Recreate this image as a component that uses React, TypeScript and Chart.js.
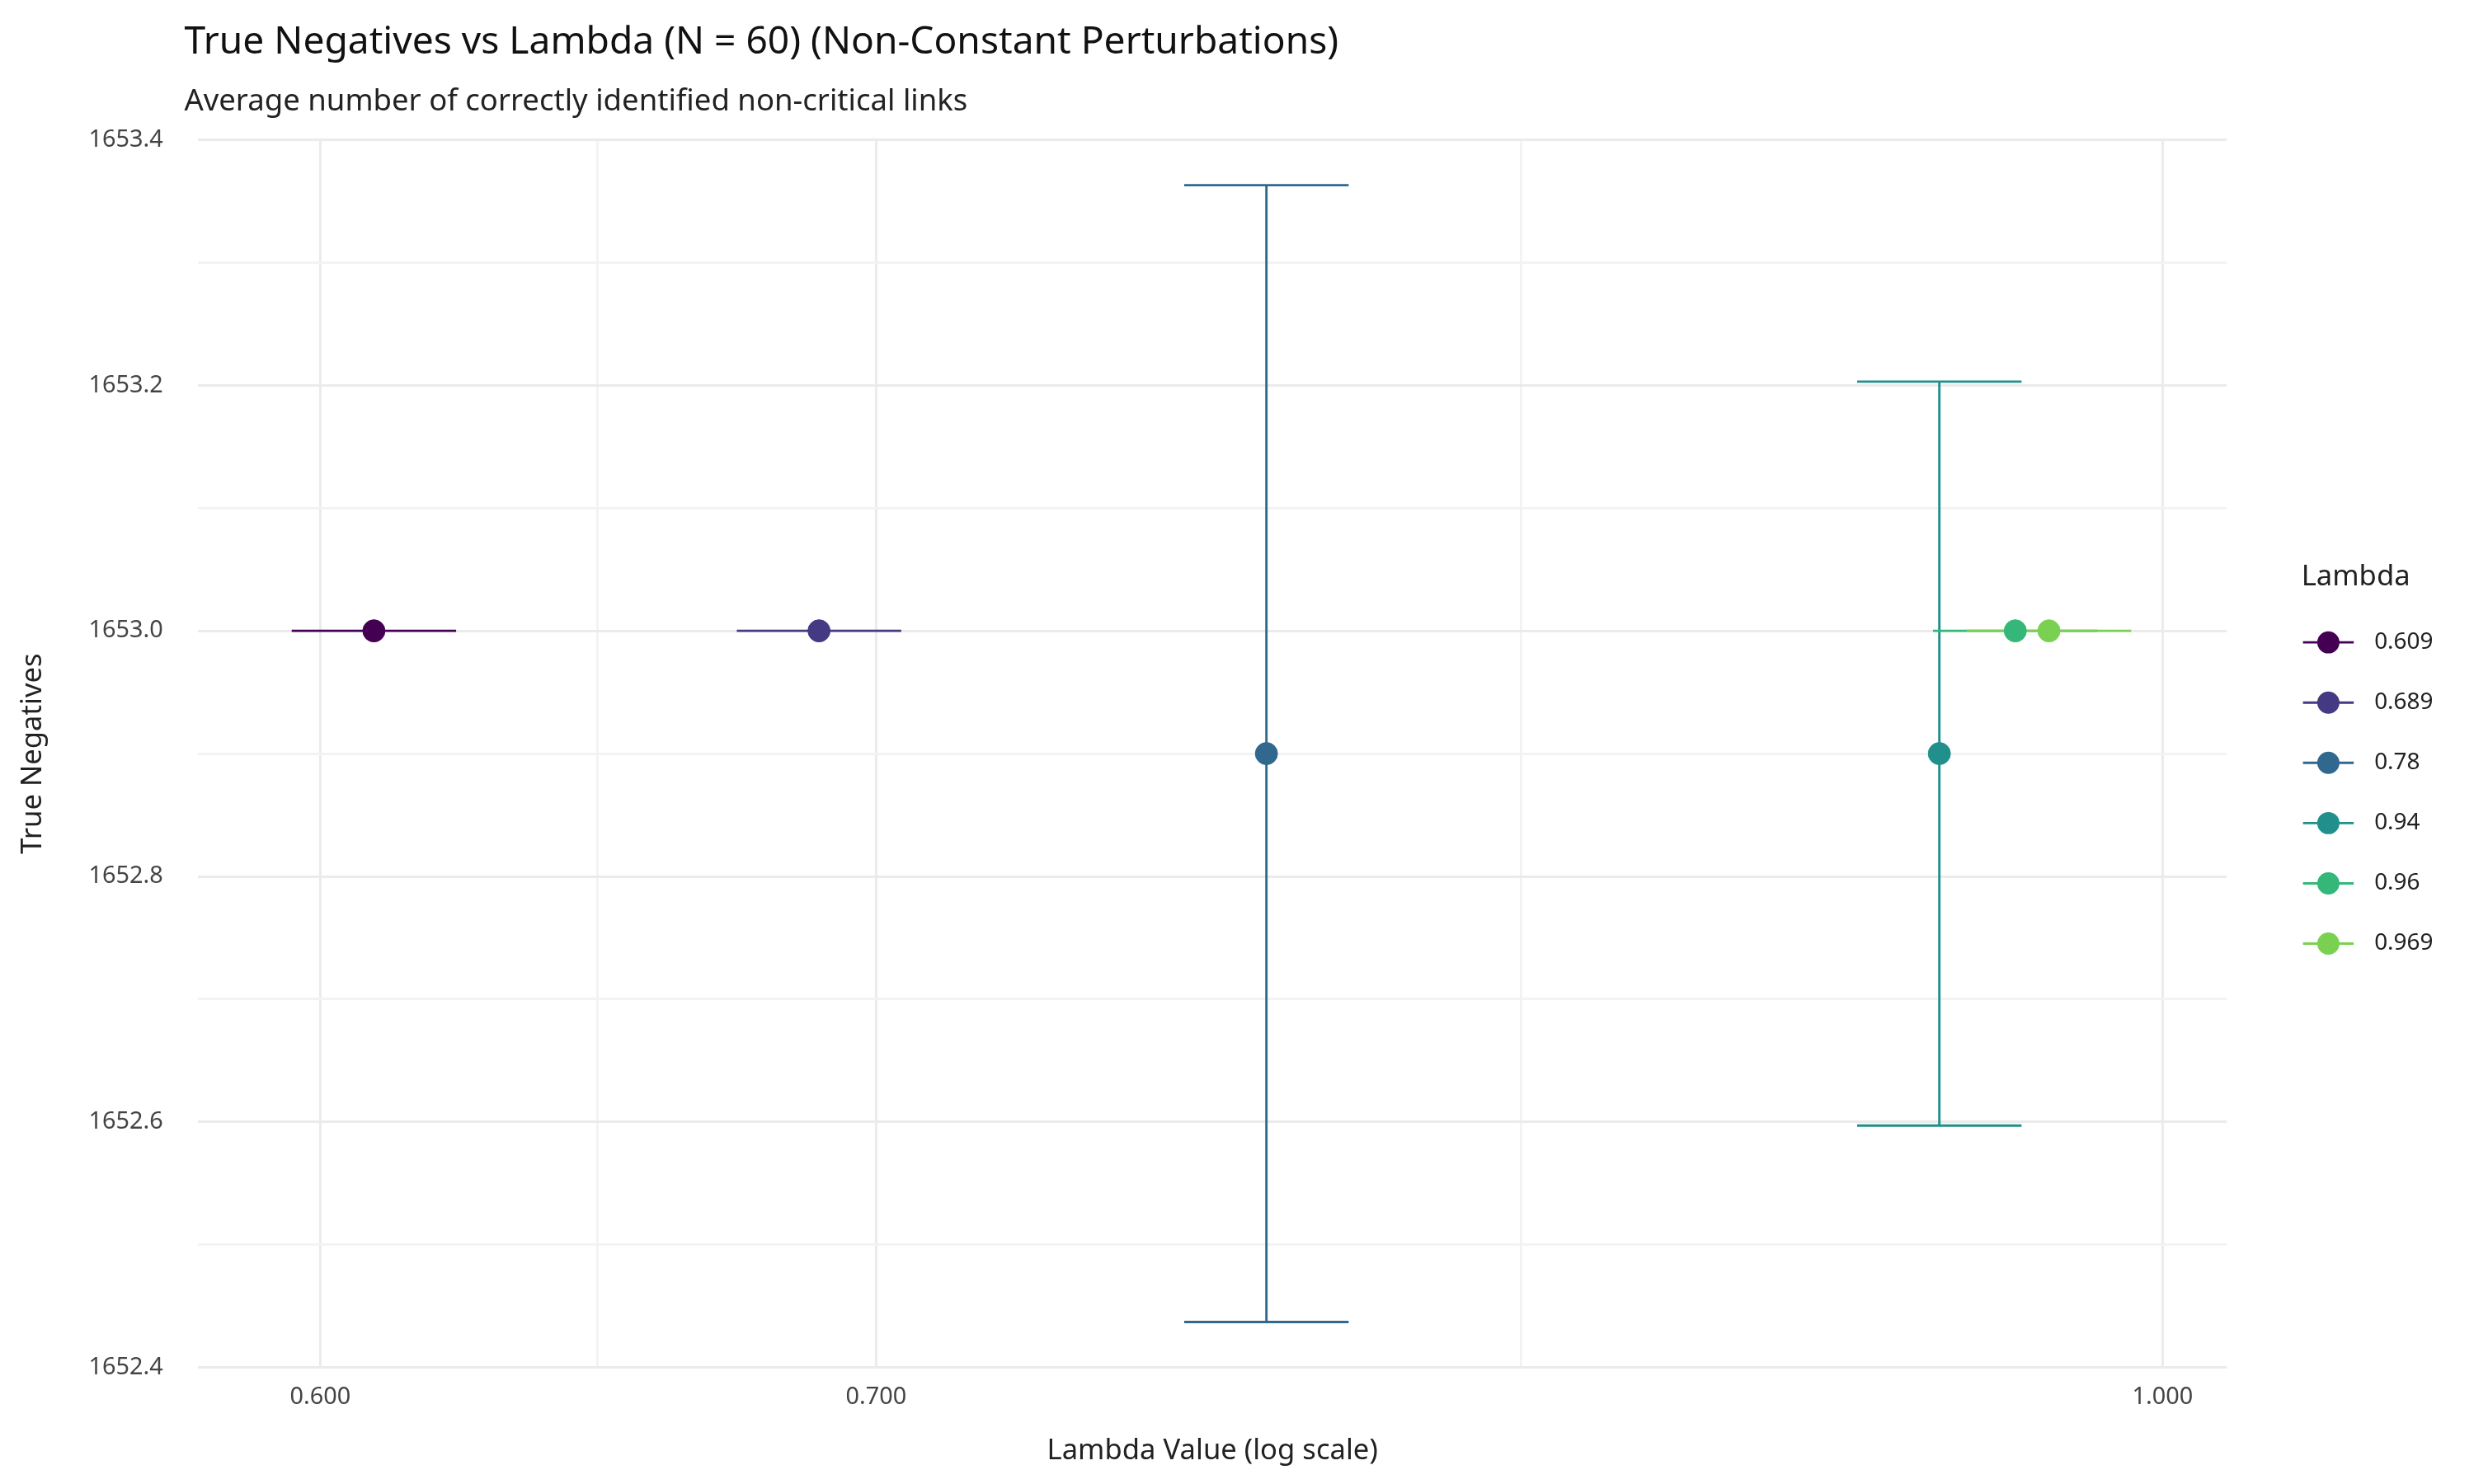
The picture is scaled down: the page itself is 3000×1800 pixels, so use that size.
import React, { useEffect, useRef } from 'react';
import { Chart, registerables } from 'chart.js';

Chart.register(...registerables);

const S = 3000 / 1560;
const px = (v: number) => v * S;

const lambdas = [0.609, 0.689, 0.78, 0.94, 0.96, 0.969];
const means = [1653.0, 1653.0, 1652.9, 1652.9, 1653.0, 1653.0];
const lows = [1653.0, 1653.0, 1652.437, 1652.597, 1653.0, 1653.0];
const highs = [1653.0, 1653.0, 1653.363, 1653.203, 1653.0, 1653.0];
const labels = ['0.609', '0.689', '0.78', '0.94', '0.96', '0.969'];
const colors = ['#440154', '#443A83', '#31688E', '#21908C', '#35B779', '#7AD151'];
const xTicks = [0.6, 0.648, 0.7, 0.837, 1.0];
const xMajor = [0.6, 0.7, 1.0];

const errorBars = {
  id: 'errorBars',
  beforeDatasetsDraw(chart: any) {
    const { ctx, scales } = chart;
    const x = scales.x, y = scales.y;
    const w = Math.pow(10, 0.0099);
    ctx.save();
    ctx.lineWidth = px(1.5);
    lambdas.forEach((l, i) => {
      ctx.strokeStyle = colors[i];
      const cx = x.getPixelForValue(l);
      const x0 = x.getPixelForValue(l / w), x1 = x.getPixelForValue(l * w);
      const yl = y.getPixelForValue(lows[i]), yh = y.getPixelForValue(highs[i]);
      ctx.beginPath();
      ctx.moveTo(cx, yl); ctx.lineTo(cx, yh);
      ctx.moveTo(x0, yl); ctx.lineTo(x1, yl);
      ctx.moveTo(x0, yh); ctx.lineTo(x1, yh);
      ctx.stroke();
    });
    ctx.restore();
  },
};

const decorations = {
  id: 'decorations',
  afterDraw(chart: any) {
    const { ctx } = chart;
    ctx.save();
    ctx.textBaseline = 'middle';
    ctx.fillStyle = '#111';
    ctx.font = `${px(24)}px "Noto Sans"`;
    ctx.fillText('True Negatives vs Lambda (N = 60) (Non-Constant Perturbations)', px(112), px(23));
    ctx.fillStyle = '#222';
    ctx.font = `${px(19)}px "Noto Sans"`;
    ctx.fillText('Average number of correctly identified non-critical links', px(112), px(60));
    ctx.font = `${px(18)}px "Noto Sans"`;
    ctx.fillText('Lambda', px(1447), px(360));
    ctx.font = `${px(14.5)}px "Noto Sans"`;
    labels.forEach((t, i) => {
      const yy = px(401 + i * 38);
      ctx.strokeStyle = colors[i];
      ctx.lineWidth = px(1.5);
      ctx.beginPath();
      ctx.moveTo(px(1448), yy); ctx.lineTo(px(1480), yy); ctx.stroke();
      ctx.fillStyle = colors[i];
      ctx.beginPath();
      ctx.arc(px(1464), yy, px(7), 0, Math.PI * 2); ctx.fill();
      ctx.fillStyle = '#222';
      ctx.fillText(t, px(1493), yy);
    });
    ctx.restore();
  },
};

export default function App() {
  const ref = useRef<HTMLCanvasElement>(null);
  useEffect(() => {
    const chart = new Chart(ref.current!, {
      type: 'scatter',
      data: {
        datasets: lambdas.map((l, i) => ({
          label: labels[i],
          data: [{ x: l, y: means[i] }],
          backgroundColor: colors[i],
          borderColor: colors[i],
          pointRadius: px(7),
        })),
      },
      options: {
        animation: false,
        responsive: false,
        devicePixelRatio: 1,
        layout: { padding: { left: px(4), right: px(160), top: px(84), bottom: px(12) } },
        plugins: {
          legend: { display: false },
          tooltip: { enabled: false },
        },
        scales: {
          x: {
            type: 'logarithmic', min: 0.58, max: 1.018,
            afterBuildTicks: (s: any) => { s.ticks = xTicks.map((v) => ({ value: v })); },
            ticks: {
              autoSkip: false, maxRotation: 0, color: '#444', padding: px(10),
              font: { family: 'Noto Sans', size: px(15) },
              callback: (v: any) => (xMajor.includes(v) ? Number(v).toFixed(3) : ''),
            },
            grid: {
              color: (c: any) => (xMajor.includes(c.tick?.value) ? '#EBEBEB' : '#F3F3F3'),
              lineWidth: px(1.5), drawTicks: false,
            },
            border: { display: false },
            title: { display: true, text: 'Lambda Value (log scale)', color: '#222', padding: { top: px(4) }, font: { family: 'Noto Sans', size: px(18) } },
          },
          y: {
            min: 1652.4, max: 1653.4,
            ticks: {
              stepSize: 0.1, color: '#444', padding: px(22), font: { family: 'Noto Sans', size: px(15) },
              callback: (v: any) => (Math.round(Number(v) * 10) % 2 === 0 ? Number(v).toFixed(1) : ''),
            },
            grid: {
              color: (c: any) => (Math.round(c.tick.value * 10) % 2 === 0 ? '#EBEBEB' : '#F3F3F3'),
              lineWidth: px(1.5), drawTicks: false,
            },
            border: { display: false },
            title: { display: true, text: 'True Negatives', color: '#222', font: { family: 'Noto Sans', size: px(18) } },
          },
        },
      },
      plugins: [errorBars, decorations],
    } as any);
    return () => chart.destroy();
  }, []);
  return (
    <div style={{ background: '#fff', width: 3000, height: 1800 }}>
      <canvas ref={ref} width={3000} height={1800} style={{ width: 3000, height: 1800 }} />
    </div>
  );
}
